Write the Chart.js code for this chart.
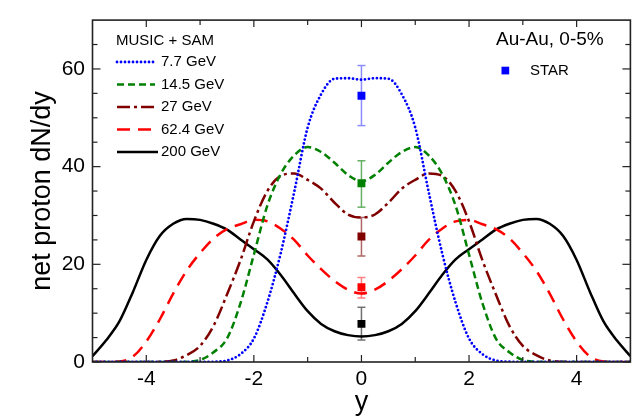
<!DOCTYPE html>
<html>
<head>
<meta charset="utf-8">
<title>net proton dN/dy</title>
<script src="https://cdn.jsdelivr.net/npm/chart.js@4.4.1/dist/chart.umd.min.js"></script>
<style>
  html, body { margin: 0; padding: 0; background: #fff; }
  #wrap { width: 636px; height: 420px; }
</style>
</head>
<body>
<div id="wrap"><canvas id="chart"></canvas></div>
<script>
// rapidity grid
const rapidity = [-5, -4.75, -4.5, -4.25, -4, -3.75, -3.5, -3.25, -3, -2.75, -2.5, -2.25, -2, -1.75, -1.5, -1.25, -1, -0.75, -0.5, -0.25,
  0, 0.25, 0.5, 0.75, 1, 1.25, 1.5, 1.75, 2, 2.25, 2.5, 2.75, 3, 3.25, 3.5, 3.75, 4, 4.25, 4.5, 4.75, 5];

// MUSIC + SAM curves
const gev7 = [0, 0, 0, 0, 0, 0, 0, 0, 0, 0.05, 0.3, 1.6, 4.8, 12.2, 22.3, 34.8, 48.0, 54.8, 58.0, 58.1,
  57.8, 58.1, 58.0, 54.8, 48.0, 34.8, 22.3, 12.2, 4.8, 1.6, 0.3, 0.05, 0, 0, 0, 0, 0, 0, 0, 0, 0];
const gev14 = [0, 0, 0, 0, 0, 0, 0, 0.05, 0.4, 2.0, 4.8, 12.0, 22.0, 32.0, 38.5, 42.3, 44.0, 43.0, 40.8, 38.3,
  37.0, 38.3, 40.8, 43.0, 44.0, 42.3, 38.5, 32.0, 22.0, 12.0, 4.8, 2.0, 0.4, 0.05, 0, 0, 0, 0, 0, 0, 0];
const gev27 = [0, 0, 0, 0, 0, 0.05, 0.3, 1.4, 3.3, 7.4, 13.8, 20.8, 28.8, 35.0, 38.1, 38.6, 37.3, 35.5, 32.6, 30.2,
  29.6, 30.2, 32.6, 35.5, 37.3, 38.6, 38.1, 35.0, 28.8, 20.8, 13.8, 7.4, 3.3, 1.4, 0.3, 0.05, 0, 0, 0, 0, 0];
const gev62 = [0, 0, 0.1, 1.1, 4.2, 8.7, 14.0, 18.7, 22.3, 25.3, 27.2, 28.2, 29.1, 28.8, 27.3, 25.0, 21.8, 19.0, 16.6, 14.8,
  14.0, 14.8, 16.6, 19.0, 21.8, 25.0, 27.3, 28.8, 29.1, 28.2, 27.2, 25.3, 22.3, 18.7, 14.0, 8.7, 4.2, 1.1, 0.1, 0, 0];
const gev200 = [1.2, 4.4, 8.3, 14.3, 20.9, 25.8, 28.3, 29.3, 29.1, 28.3, 27.1, 25.1, 23.1, 21.0, 17.8, 14.0, 10.4, 7.8, 6.3, 5.5,
  5.2, 5.5, 6.3, 7.8, 10.4, 14.0, 17.8, 21.0, 23.1, 25.1, 27.1, 28.3, 29.1, 29.3, 28.3, 25.8, 20.9, 14.3, 8.3, 4.4, 1.2];

// STAR points at y = 0 (7.7, 14.5, 27, 62.4, 200 GeV)
const starY = [54.5, 36.6, 25.7, 15.3, 7.8];
const starLow = [48.4, 31.7, 21.7, 13.1, 4.5];
const starHigh = [60.7, 41.2, 29.6, 17.3, 11.2];

const seriesNames = ["7.7 GeV", "14.5 GeV", "27 GeV", "62.4 GeV", "200 GeV"];
const xTicks = [-4, -2, 0, 2, 4];
const xMinor = [-3, -1, 1, 3];
const yTicks = [0, 20, 40, 60];
const yMinor = [5, 10, 15, 25, 30, 35, 45, 50, 55, 65];

const FONT = "'Liberation Sans', Arial, Helvetica, sans-serif";
const colors = ["#0000ff", "#008000", "#800000", "#ff0000", "#000000"];
const errColors = ["#8c8cff", "#66b066", "#b06666", "#ff8080", "#707070"];
const dashes = [[0, 4], [7, 4], [13, 4, 3, 4], [13, 8], []];

function pts(vals) {
  return vals.map((v, i) => ({ x: rapidity[i], y: v }));
}

const curves = [gev7, gev14, gev27, gev62, gev200].map((vals, i) => ({
  label: seriesNames[i],
  data: pts(vals),
  borderColor: colors[i],
  borderWidth: i === 0 ? 2.8 : 2.5,
  borderDash: dashes[i],
  borderCapStyle: i === 0 ? "round" : "butt",
  pointRadius: 0,
  cubicInterpolationMode: "monotone",
  fill: false
}));

const starSet = {
  label: "STAR",
  type: "scatter",
  data: starY.map(v => ({ x: 0, y: v })),
  pointStyle: "rect",
  pointRadius: 5.6,
  pointBackgroundColor: colors,
  pointBorderColor: colors,
  pointBorderWidth: 0
};

function line(ctx, x1, y1, x2, y2) {
  ctx.beginPath();
  ctx.moveTo(x1, y1);
  ctx.lineTo(x2, y2);
  ctx.stroke();
}

// error bars of STAR points, under the markers
const errorBars = {
  id: "errorBars",
  beforeDatasetsDraw(chart) {
    const { ctx, scales: { x, y } } = chart;
    const px = x.getPixelForValue(0);
    ctx.save();
    ctx.lineWidth = 1.5;
    starY.forEach((v, i) => {
      ctx.strokeStyle = errColors[i];
      const top = y.getPixelForValue(starHigh[i]);
      const bot = y.getPixelForValue(starLow[i]);
      line(ctx, px, top, px, bot);
      line(ctx, px - 4, top, px + 4, top);
      line(ctx, px - 4, bot, px + 4, bot);
    });
    ctx.restore();
  }
};

// box frame with inward ticks on all sides
const frameTicks = {
  id: "frameTicks",
  afterDraw(chart) {
    const { ctx, chartArea: a, scales: { x, y } } = chart;
    ctx.save();
    ctx.strokeStyle = "#222";
    ctx.lineWidth = 1.2;
    xTicks.concat(xMinor).forEach(v => {
      const p = x.getPixelForValue(v);
      const len = xTicks.includes(v) ? 7 : 5;
      line(ctx, p, a.bottom, p, a.bottom - len);
      line(ctx, p, a.top, p, a.top + len);
    });
    yTicks.concat(yMinor).forEach(v => {
      const p = y.getPixelForValue(v);
      const len = yTicks.includes(v) ? 8 : 5;
      line(ctx, a.left, p, a.left + len, p);
      line(ctx, a.right, p, a.right - len, p);
    });
    ctx.lineWidth = 1.6;
    ctx.strokeRect(a.left, a.top, a.right - a.left, a.bottom - a.top);
    ctx.restore();
  }
};

// the two legends inside the plot
const plotLegend = {
  id: "plotLegend",
  afterDatasetsDraw(chart) {
    const { ctx } = chart;
    ctx.save();
    ctx.fillStyle = "#000";
    ctx.textBaseline = "middle";
    ctx.textAlign = "left";
    ctx.font = "15px " + FONT;
    ctx.fillText("MUSIC + SAM", 116, 41);
    const rows = [62, 84.5, 107, 129.5, 152];
    curves.forEach((c, i) => {
      ctx.strokeStyle = c.borderColor;
      ctx.lineWidth = c.borderWidth;
      ctx.setLineDash(c.borderDash);
      ctx.lineCap = c.borderCapStyle;
      line(ctx, 117, rows[i], i >= 2 ? 158 : 155, rows[i]);
      ctx.setLineDash([]);
      ctx.lineCap = "butt";
      ctx.fillText(c.label, 161, rows[i]);
    });
    ctx.font = "19px " + FONT;
    ctx.fillText("Au-Au, 0-5%", 496, 40);
    ctx.fillStyle = colors[0];
    ctx.fillRect(501.5, 66.7, 7.7, 7.7);
    ctx.fillStyle = "#000";
    ctx.font = "15px " + FONT;
    ctx.fillText("STAR", 530, 71);
    ctx.restore();
  }
};

new Chart(document.getElementById("chart"), {
  type: "line",
  data: { datasets: [starSet].concat(curves) },
  options: {
    responsive: true,
    maintainAspectRatio: false,
    animation: false,
    layout: { padding: { top: 9, right: 3, left: 0, bottom: 0 } },
    plugins: { legend: { display: false }, tooltip: { enabled: false } },
    scales: {
      x: {
        type: "linear",
        min: -5,
        max: 5,
        afterBuildTicks: s => { s.ticks = xTicks.map(v => ({ value: v })); },
        afterFit: s => { s.height = 58; },
        grid: { display: false, drawTicks: false },
        border: { display: false },
        ticks: { color: "#000", font: { family: FONT, size: 21 }, padding: 5, maxRotation: 0 },
        title: { display: true, text: "y", color: "#000", font: { family: FONT, size: 27 }, padding: { top: 0, bottom: 1 } }
      },
      y: {
        min: 0,
        max: 70,
        afterBuildTicks: s => { s.ticks = yTicks.map(v => ({ value: v })); },
        afterFit: s => { s.width = 92.5; },
        grid: { display: false, drawTicks: false },
        border: { display: false },
        ticks: { color: "#000", font: { family: FONT, size: 21 }, padding: 7.5 },
        title: { display: true, text: "net proton dN/dy", color: "#000", font: { family: FONT, size: 27 }, padding: { top: 26, bottom: 0 } }
      }
    }
  },
  plugins: [errorBars, plotLegend, frameTicks]
});
</script>
</body>
</html>
